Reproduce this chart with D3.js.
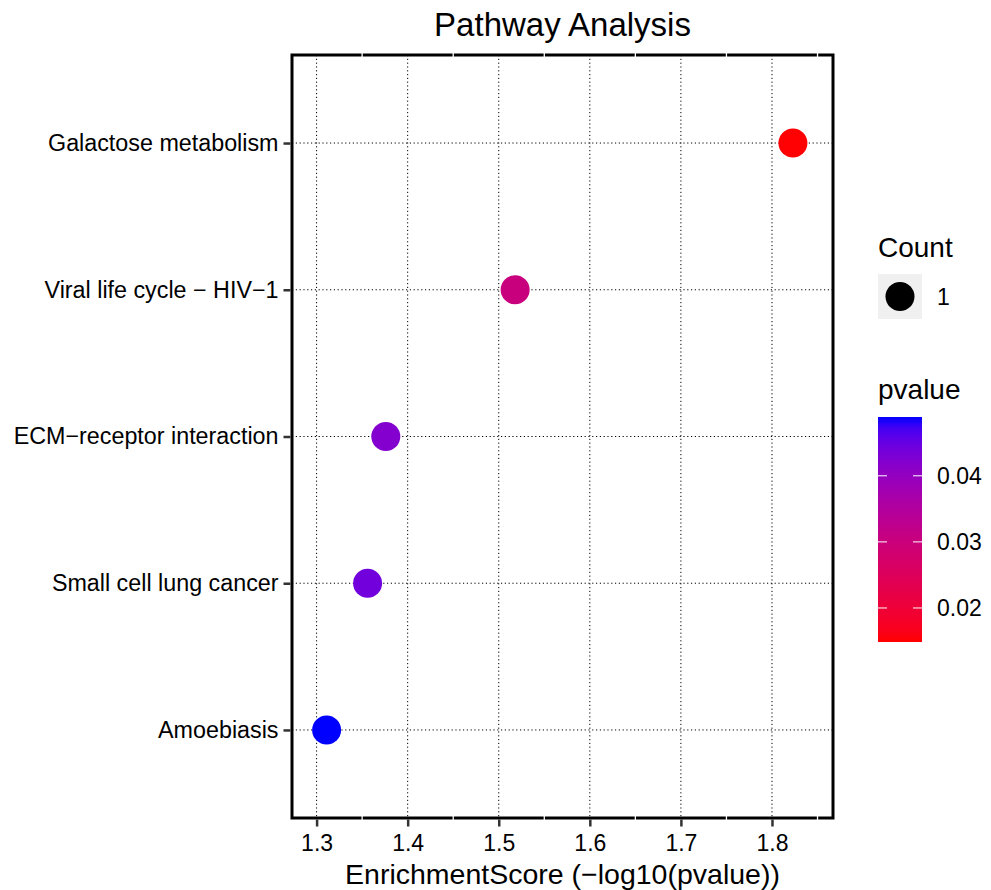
<!DOCTYPE html>
<html>
<head>
<meta charset="utf-8">
<script src="https://cdn.jsdelivr.net/npm/d3@7"></script>
<style>
  body { margin: 0; background: #fff; }
  text { font-family: "Liberation Sans", Arial, sans-serif; fill: #000; }
</style>
</head>
<body>
<script>
// data
var pathways = ["Galactose metabolism", "Viral life cycle \u2212 HIV\u22121", "ECM\u2212receptor interaction",
                "Small cell lung cancer", "Amoebiasis"];
var enrichment = [1.823, 1.518, 1.376, 1.356, 1.311];
var pvalues = [0.0150, 0.0303, 0.0421, 0.0441, 0.0489];
var counts = [1, 1, 1, 1, 1];
var xTicks = [1.3, 1.4, 1.5, 1.6, 1.7, 1.8];
var pTicks = [0.02, 0.03, 0.04];

var width = 991, height = 890;
var pLeft = 292, pRight = 833, pTop = 55, pBottom = 818;

var svg = d3.select("body").append("svg")
    .attr("width", width)
    .attr("height", height);

var x = d3.scaleLinear().domain([1.273, 1.867]).range([pLeft, pRight]);
var y = d3.scalePoint().domain(pathways).range([pTop, pBottom]).padding(0.6);
var color = d3.scaleLinear().domain([0.01485, 0.0489]).range(["red", "blue"])
    .interpolate(d3.interpolateLab);

// gridlines
var grid = svg.append("g");
grid.selectAll("line.vx")
  .data(xTicks)
  .enter()
  .append("line")
  .attr("x1", function(d) { return x(d); })
  .attr("x2", function(d) { return x(d); })
  .attr("y1", pTop)
  .attr("y2", pBottom)
  .attr("stroke", "#000")
  .attr("stroke-width", 1)
  .attr("stroke-dasharray", "1.2,2.6");
grid.selectAll("line.hy")
  .data(pathways)
  .enter()
  .append("line")
  .attr("x1", pLeft)
  .attr("x2", pRight)
  .attr("y1", function(d) { return y(d); })
  .attr("y2", function(d) { return y(d); })
  .attr("stroke", "#000")
  .attr("stroke-width", 1)
  .attr("stroke-dasharray", "1.2,2.6");

// points
svg.selectAll("circle.pt")
  .data(pathways)
  .enter()
  .append("circle")
  .attr("cx", function(d, i) { return x(enrichment[i]); })
  .attr("cy", function(d) { return y(d); })
  .attr("r", function(d, i) { return 14.5 * counts[i]; })
  .attr("fill", function(d, i) { return color(pvalues[i]); });

// panel border
svg.append("rect")
  .attr("x", pLeft)
  .attr("y", pTop)
  .attr("width", pRight - pLeft)
  .attr("height", pBottom - pTop)
  .attr("fill", "none")
  .attr("stroke", "#000")
  .attr("stroke-width", 3);

// minor breaks cut through the border in white
var minor = [1.35, 1.45, 1.55, 1.65, 1.75, 1.85];
[pTop, pBottom].forEach(function(yy) {
  svg.selectAll(null)
    .data(minor)
    .enter()
    .append("line")
    .attr("x1", function(d) { return x(d); })
    .attr("x2", function(d) { return x(d); })
    .attr("y1", yy - 2)
    .attr("y2", yy + 2)
    .attr("stroke", "#fff")
    .attr("stroke-width", 1.3);
});

// x axis
var xAxis = svg.append("g")
  .attr("transform", "translate(0," + (pBottom + 1.5) + ")")
  .call(d3.axisBottom(x).tickValues(xTicks).tickSize(7).tickPadding(8).tickFormat(d3.format(".1f")));
xAxis.select(".domain").remove();
xAxis.selectAll("line").attr("stroke", "#333").attr("stroke-width", 2.5);
xAxis.selectAll("text").attr("font-size", "23px").attr("fill", "#000");

// y axis
var yAxis = svg.append("g")
  .attr("transform", "translate(" + (pLeft - 1.5) + ",0)")
  .call(d3.axisLeft(y).tickSize(7).tickPadding(5));
yAxis.select(".domain").remove();
yAxis.selectAll("line").attr("stroke", "#333").attr("stroke-width", 2.5);
yAxis.selectAll("text").attr("font-size", "23.3px").attr("fill", "#000");

// titles
svg.append("text")
  .attr("x", (pLeft + pRight) / 2)
  .attr("y", 36)
  .attr("text-anchor", "middle")
  .attr("font-size", "33px")
  .text("Pathway Analysis");

svg.append("text")
  .attr("x", (pLeft + pRight) / 2)
  .attr("y", 884)
  .attr("text-anchor", "middle")
  .attr("font-size", "28.5px")
  .text("EnrichmentScore (\u2212log10(pvalue))");

// size legend
svg.append("text")
  .attr("x", 878)
  .attr("y", 257)
  .attr("font-size", "28px")
  .text("Count");
svg.append("rect")
  .attr("x", 878)
  .attr("y", 274)
  .attr("width", 44)
  .attr("height", 45)
  .attr("fill", "#f0f0f0");
svg.append("circle")
  .attr("cx", 900)
  .attr("cy", 296.5)
  .attr("r", 14.5)
  .attr("fill", "#000");
svg.append("text")
  .attr("x", 937)
  .attr("y", 305)
  .attr("font-size", "23px")
  .text(counts[0]);

// colour legend
svg.append("text")
  .attr("x", 878)
  .attr("y", 399)
  .attr("font-size", "28px")
  .text("pvalue");

var cTop = 417, cBottom = 642, cLeft = 878, cW = 44;
var cScale = d3.scaleLinear().domain(color.domain()).range([cBottom, cTop]);

var grad = svg.append("defs").append("linearGradient")
  .attr("id", "pgrad")
  .attr("x1", 0).attr("y1", 1).attr("x2", 0).attr("y2", 0);
grad.selectAll("stop")
  .data(d3.range(0, 1.0001, 0.05))
  .enter()
  .append("stop")
  .attr("offset", function(d) { return d; })
  .attr("stop-color", function(d) {
    var dom = color.domain();
    return color(dom[0] + d * (dom[1] - dom[0]));
  });

svg.append("rect")
  .attr("x", cLeft)
  .attr("y", cTop)
  .attr("width", cW)
  .attr("height", cBottom - cTop)
  .attr("fill", "url(#pgrad)");

var ct = svg.append("g").selectAll("g")
  .data(pTicks)
  .enter()
  .append("g");
ct.append("line")
  .attr("x1", cLeft).attr("x2", cLeft + 9)
  .attr("y1", function(d) { return cScale(d); })
  .attr("y2", function(d) { return cScale(d); })
  .attr("stroke", "#fff").attr("stroke-width", 1);
ct.append("line")
  .attr("x1", cLeft + cW - 9).attr("x2", cLeft + cW)
  .attr("y1", function(d) { return cScale(d); })
  .attr("y2", function(d) { return cScale(d); })
  .attr("stroke", "#fff").attr("stroke-width", 1);
ct.append("text")
  .attr("x", 937)
  .attr("y", function(d) { return cScale(d) + 8; })
  .attr("font-size", "23px")
  .text(function(d) { return d.toFixed(2); });
</script>
</body>
</html>
